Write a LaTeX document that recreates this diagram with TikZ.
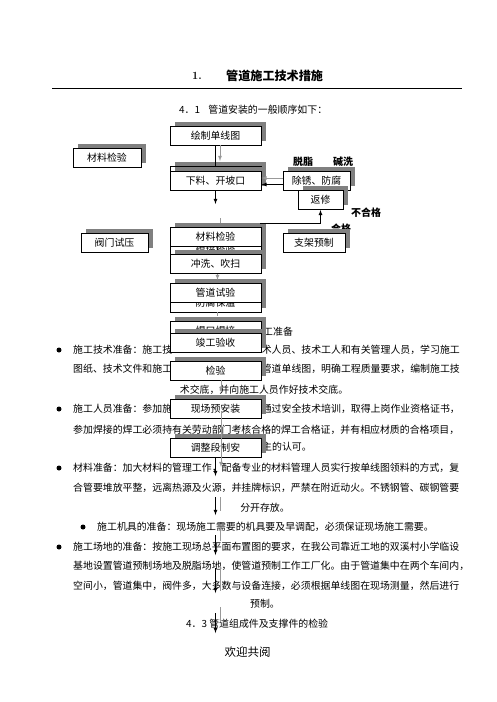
\documentclass[tikz,border=0pt]{standalone}
\usepackage{fontspec}
\usepackage{xcolor}
\usetikzlibrary{shadows}
\newfontfamily\cjk{Noto Sans CJK SC}
\XeTeXlinebreaklocale "zh"
\XeTeXlinebreakskip=0pt plus 2pt
\newcommand{\isi}{\cjk\fontsize{9.9}{12}\selectfont}
\newcommand{\penuh}[1]{\makebox[387pt][s]{#1}}

\tikzset{
  kotak/.style={draw, fill=white, line width=0.8pt, minimum width=91pt, minimum height=19pt,
    inner sep=0pt, font=\isi,
    drop shadow={shadow xshift=4.5pt, shadow yshift=4.5pt, fill=black!50, opacity=1}},
  baris/.style={anchor=west, inner sep=0pt, font=\isi},
  ujung/.style={anchor=east, inner sep=0pt, font=\isi},
  tengah/.style={inner sep=0pt, font=\isi},
  catatan/.style={inner sep=0pt, font=\cjk\bfseries\fontsize{10}{12}\selectfont},
  titik/.style={circle, fill=black, inner sep=0pt, minimum size=5pt},
  panahhitam/.style={->, black, line width=0.8pt},
  panahabu/.style={->, black!40, line width=0.8pt},
  garisabu/.style={black!40, line width=0.8pt}
}

\begin{document}
\begin{tikzpicture}[x=1pt, y=-1pt, >=latex]
    % --- LAPISAN 1: LATAR HALAMAN ---
    \fill[white] (0,0) rectangle (496,702);
    \useasboundingbox (0,0) rectangle (496,702);

    % --- LAPISAN 2: JUDUL DAN GARIS ---
    \node[anchor=west, inner sep=0pt, font=\bfseries\fontsize{11}{13}\selectfont] (nomor) at (192,76) {1.};
    \node[anchor=west, inner sep=0pt, font=\cjk\bfseries\fontsize{12.1}{14}\selectfont] (judul) at (226,76) {管道施工技术措施};
    \draw[line width=1pt] (52,88) -- (462,88);
    \node[baris] (sub1) at (179,110) {\makebox[148pt][s]{4．1 管道安装的一般顺序如下：}};

    % --- LAPISAN 3: TEKS PARAGRAF (bagian tengah tertutup kotak) ---
    \node[baris] (sub2) at (263,332) {工准备};
    \node[titik] (b1) at (59,350) {};
    \node[baris] (p1a) at (73,350) {施工技术准备：施工技};
    \node[ujung] (p1a2) at (460,350) {术人员、技术工人和有关管理人员，学习施工};
    \node[baris] (p1b) at (73,369) {图纸、技术文件和施工};
    \node[ujung] (p1b2) at (460,369) {管道单线图，明确工程质量要求，编制施工技};
    \node[tengah] (p1c) at (264,390) {术交底，并向施工人员作好技术交底。};
    \node[titik] (b2) at (59,409) {};
    \node[baris] (p2a) at (73,409) {施工人员准备：参加施};
    \node[ujung] (p2a2) at (460,409) {通过安全技术培训，取得上岗作业资格证书，};
    \node[baris] (p2b) at (73,430) {\penuh{参加焊接的焊工必须持有关劳动部门考核合格的焊工合格证，并有相应材质的合格项目，}};
    \node[baris] (p2c) at (262,447) {主的认可。};
    \node[titik] (b3) at (59,468) {};
    \node[baris] (p3a) at (73,468) {\penuh{材料准备：加大材料的管理工作，配备专业的材料管理人员实行按单线图领料的方式，复}};
    \node[baris] (p3b) at (73,488) {\penuh{合管要堆放平整，远离热源及火源，并挂牌标识，严禁在附近动火。不锈钢管、碳钢管要}};
    \node[tengah] (p3c) at (265,508) {分开存放。};
    \node[titik] (b4) at (83,527) {};
    \node[baris] (p4a) at (97,527) {施工机具的准备：现场施工需要的机具要及早调配，必须保证现场施工需要。};
    \node[titik] (b5) at (59,547) {};
    \node[baris] (p5a) at (73,547) {\penuh{施工场地的准备：按施工现场总平面布置图的要求，在我公司靠近工地的双溪村小学临设}};
    \node[baris] (p5b) at (73,566) {\penuh{基地设置管道预制场地及脱脂场地，使管道预制工作工厂化。由于管道集中在两个车间内，}};
    \node[baris] (p5c) at (73,586) {\penuh{空间小，管道集中，阀件多，大多数与设备连接，必须根据单线图在现场测量，然后进行}};
    \node[tengah] (p5d) at (265,604) {预制。};
    \node[baris] (sub3) at (186,624) {4．3 管道组成件及支撑件的检验};
    \node[tengah, font=\cjk\fontsize{11.5}{14}\selectfont] (penutup) at (247.5,652) {欢迎共阅};

    % --- LAPISAN 4: CATATAN KECIL ---
    \node[catatan] (tuozhi) at (303,162) {脱脂};
    \node[catatan] (jianxi) at (343,162) {碱洗};
    \node[catatan] (buhege) at (366,213) {不合格};
    \node[catatan] (hege) at (341,229) {合格};

    % --- LAPISAN 5: KOTAK BERBAYANG ---
    \node[kotak, minimum width=68pt] (matkiri) at (107,158) {材料检验};
    \node[kotak] (gambar) at (215.5,135.5) {绘制单线图};
    \node[kotak] (tersembunyi) at (215.5,175.5) {};
    \node[kotak] (potong) at (215.5,181) {下料、开坡口};
    \node[kotak, minimum width=67pt] (karat) at (316.5,181) {除锈、防腐};
    \node[kotak, minimum width=45pt] (perbaiki) at (320.5,200) {返修};
    \node[kotak, minimum width=67pt] (katup) at (114.5,243) {阀门试压};
    \node[kotak, minimum width=62pt] (penyangga) at (314,243) {支架预制};
    \node[kotak] (hanjie) at (215.5,250.5) {焊接检验};
    \node[kotak] (matengah) at (215.5,236.5) {材料检验};
    \node[kotak] (bilas) at (215.5,264) {冲洗、吹扫};
    \node[kotak] (fangfu) at (215.5,302.5) {防腐保温};
    \node[kotak] (ujipipa) at (215.5,292.5) {管道试验};
    \node[kotak] (hankou) at (215.5,330.5) {焊口焊接};
    \node[kotak] (jungong) at (215.5,342.5) {竣工验收};
    \node[kotak] (periksa) at (215.5,370.5) {检验};
    \node[kotak] (pasang) at (215.5,409) {现场预安装};
    \node[kotak] (atur) at (215.5,447.5) {调整段制安};

    % --- LAPISAN 6: PANAH ---
    \coordinate (g1) at (220,161);
    \coordinate (s5) at (260,223);
    \coordinate (k3) at (215.5,204);
    \coordinate (t4a) at (220,218);
    \coordinate (t4b) at (220,223);
    \coordinate (g6) at (217.5,280);
    \coordinate (g7) at (217.5,316);
    \coordinate (g8) at (221,392);
    \coordinate (g9a) at (221,411);
    \coordinate (g9b) at (221,467);
    \coordinate (k10) at (215.5,476);
    \draw[panahabu] (gambar.south -| g1) -- (g1);
    \draw[line width=0.8pt] (gambar.south) -- (tersembunyi.north);
    \draw[panahabu] ([yshift=3pt]karat.west) -- ([yshift=3pt]potong.east);
    \draw[panahhitam] ([yshift=-3.5pt]karat.west) -- ([yshift=-3.5pt]potong.east);
    \draw[panahhitam] (potong.south) -- (k3);
    \draw[garisabu] (t4a) -- (t4b);
    \draw[panahhitam] (s5) -| (perbaiki.south);
    \draw[panahabu] (bilas.south -| g6) -- (g6);
    \draw[garisabu] (fangfu.south -| g7) -- (g7);
    \draw[panahabu] (periksa.south -| g8) -- (g8);
    \draw[panahabu] (g9a) -- (g9b);
    \draw[panahhitam] (atur.south) -- (k10);

    % panah-panah pendek di bawah kotak terakhir
    \foreach \ya/\yb [count=\i] in {497/515, 535/555, 568/593, 613/633} {
        \coordinate (h\i a) at (215.5,\ya);
        \coordinate (h\i b) at (215.5,\yb);
        \draw[panahhitam] (h\i a) -- (h\i b);
    }
    \foreach \ya/\yb [count=\i] in {497/511, 527/541, 566/591, 607/622} {
        \coordinate (a\i a) at (220,\ya);
        \coordinate (a\i b) at (220,\yb);
        \draw[garisabu] (a\i a) -- (a\i b);
    }

\end{tikzpicture}
\end{document}
